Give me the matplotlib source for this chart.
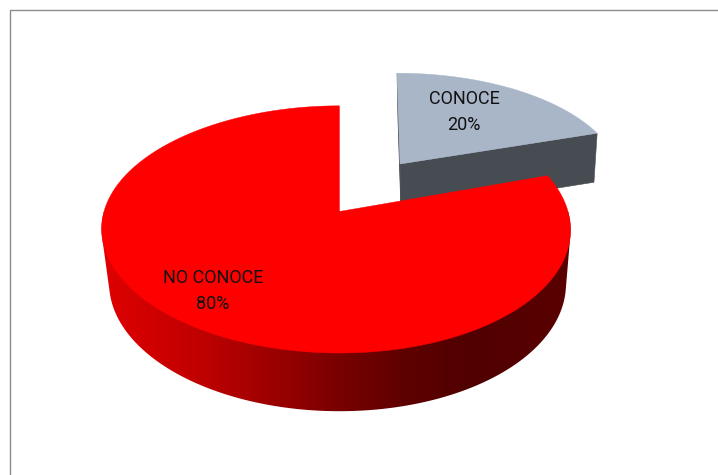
import numpy as np
import matplotlib
matplotlib.use("Agg")
import matplotlib.pyplot as plt
from matplotlib.patches import Polygon

categories = ["CONOCE", "NO CONOCE"]
percentages = [20, 80]
top_colors = ["#A9B6C8", "#FF0000"]
GRAY_SIDE = "#474B52"

plt.rcParams["font.family"] = ["Roboto", "DejaVu Sans"]
fig = plt.figure(figsize=(7.18, 4.75), dpi=100, facecolor="white")
ax = fig.add_axes([0, 0, 1, 1])
ax.axis("off")

fracs = np.array(percentages, dtype=float) / sum(percentages)
edges = np.concatenate([[0], np.cumsum(fracs)]) * 2 * np.pi


def project(t, ring):
    """Clockwise angle from 12 o'clock onto the screen, with perspective."""
    ax0, ay0, rx, ry, k, skew, shear = ring
    u, v = np.sin(t), -np.cos(t)
    x = ax0 + rx * u / (1 - k * v) - skew * u ** 2 + shear * v
    y = ay0 + ry * v / (1 - k * v)
    return x, y


def convex_hull(points):
    pts = sorted(set(map(tuple, points)))

    def half(seq):
        out = []
        for p in seq:
            while len(out) > 1 and ((out[-1][0] - out[-2][0]) * (p[1] - out[-2][1])
                                    - (out[-1][1] - out[-2][1]) * (p[0] - out[-2][0])) <= 0:
                out.pop()
            out.append(p)
        return out[:-1]

    return np.array(half(pts) + half(pts[::-1]))


RED_TOP = (339.5, 211.5, 232, 121.0, 0.145, 3.5, 0)
RED_BOT = (339.5, 265, 226, 125, 0.145, 2.0, 0)
GRAY_TOP = (400, 164, 217.6, 104, 0.145, 0, 3)
GRAY_BOT = (401, 213, 213, 104, 0.145, 0, 3)

# red side wall: a horizontal gradient clipped to the swept silhouette
shade_x = [101, 200, 300, 340, 400, 470, 570]
shade_r = [0xE0, 0xC0, 0x8E, 0x78, 0x60, 0x50, 0x5A]
grad_x = np.arange(95, 580)
grad = np.zeros((2, grad_x.size, 3))
grad[:, :, 0] = np.interp(grad_x, shade_x, shade_r) / 255
ts = np.linspace(np.pi / 2, 3 * np.pi / 2, 500)
tx, ty = project(ts, RED_TOP)
bx, by = project(ts, RED_BOT)
band = convex_hull(np.column_stack([np.r_[tx, bx], np.r_[ty, by]]))
im = ax.imshow(grad, extent=(95, 580, 430, 130), aspect="auto",
               interpolation="nearest", zorder=2)
im.set_clip_path(Polygon(band, closed=True, transform=ax.transData))

# exploded gray slice
t0, t1 = edges[0], edges[1]
gx0, gy0 = project(t0, GRAY_TOP)
gx1, gy1 = project(t1, GRAY_TOP)
hx0, hy0 = project(t0, GRAY_BOT)
hx1, hy1 = project(t1, GRAY_BOT)
ax.fill([GRAY_TOP[0], gx0, hx0, GRAY_BOT[0]],
        [GRAY_TOP[1], gy0, hy0, GRAY_BOT[1]],
        color=GRAY_SIDE, lw=0.4, zorder=1)
ax.fill([GRAY_TOP[0], gx1, hx1, GRAY_BOT[0]],
        [GRAY_TOP[1], gy1, hy1, GRAY_BOT[1]],
        color=GRAY_SIDE, lw=0.4, zorder=1)
ga = np.linspace(t0, t1, 100)
gx, gy = project(ga, GRAY_TOP)
ax.fill(np.r_[GRAY_TOP[0], gx], np.r_[GRAY_TOP[1], gy],
        color=top_colors[0], lw=0.3, zorder=1.5)

# red top face
ra = np.linspace(edges[1], edges[2], 500)
rx, ry = project(ra, RED_TOP)
ax.fill(np.r_[RED_TOP[0], rx], np.r_[RED_TOP[1], ry],
        color=top_colors[1], lw=0.3, zorder=3)

# labels
label_pos = [(464, 99, 464, 125), (213, 278, 213, 304)]
for name, pct, (x1, y1, x2, y2) in zip(categories, percentages, label_pos):
    ax.text(x1, y1, name, ha="center", va="center", fontsize=13,
            color="#111111", zorder=5)
    ax.text(x2, y2, f"{pct}%", ha="center", va="center", fontsize=13,
            color="#111111", zorder=5)

# chart frame
ax.plot([10, 10, 718], [475, 10, 10], color="#8C8C8C", lw=1.0, zorder=6,
        solid_joinstyle="miter", clip_on=False)

ax.set_xlim(0, 718)
ax.set_ylim(475, 0)
fig.savefig("out.png", dpi=100, facecolor="white")
